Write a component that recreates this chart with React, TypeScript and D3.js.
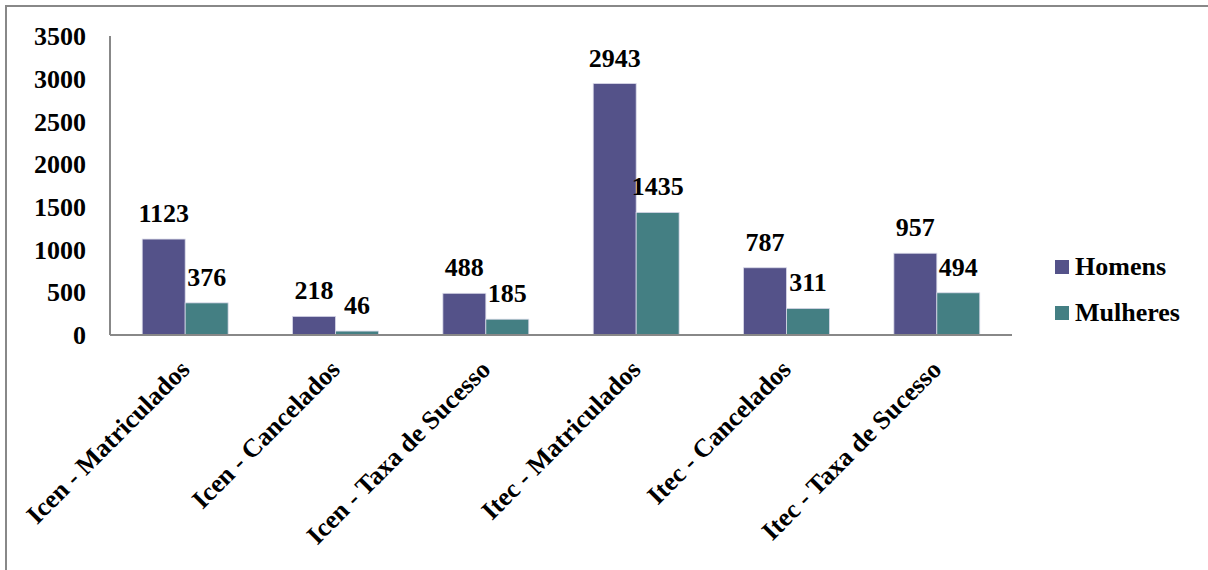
import React from "react";
import * as d3 from "d3";

const categories = [
  "Icen - Matriculados",
  "Icen - Cancelados",
  "Icen - Taxa de Sucesso",
  "Itec - Matriculados",
  "Itec - Cancelados",
  "Itec - Taxa de Sucesso",
];
const seriesNames = ["Homens", "Mulheres"];
const homens = [1123, 218, 488, 2943, 787, 957];
const mulheres = [376, 46, 185, 1435, 311, 494];
const yTicks = [0, 500, 1000, 1500, 2000, 2500, 3000, 3500];
const colors = ["#545289", "#447f83"];

const W = 1208;
const H = 570;
const FONT = "'Liberation Serif', 'Times New Roman', serif";

export default function App() {
  const left = 110;
  const right = 1012;
  const top = 36;
  const bottom = 335;

  const x0 = d3.scaleBand<string>().domain(categories).range([left, right]).padding(0);
  const bw = x0.bandwidth();
  const gap = (bw * 0.75) / 3.5;
  const x1 = d3.scaleBand<string>().domain(seriesNames).range([gap, bw - gap]).padding(0);
  const y = d3.scaleLinear().domain([0, 3500]).range([bottom, top]);

  const values = [homens, mulheres];

  return (
    <svg
      width={W}
      height={H}
      style={{ position: "absolute", left: 0, top: 0, background: "#fff" }}
      fontFamily={FONT}
      fontWeight="bold"
    >
      <rect x={6} y={6} width={W + 10} height={H + 10} fill="#fff" stroke="#888" strokeWidth={2} />

      {/* bars */}
      {categories.map((c, i) => (
        <g key={c}>
          {seriesNames.map((s, k) => {
            const v = values[k][i];
            const bx = (x0(c) as number) + (x1(s) as number);
            return (
              <g key={s}>
                <rect
                  x={bx}
                  y={y(v)}
                  width={x1.bandwidth()}
                  height={y(0) - y(v)}
                  fill={colors[k]}
                  stroke="#d8d8e8"
                  strokeWidth={0.8}
                />
                <text
                  x={bx + x1.bandwidth() / 2}
                  y={y(v) - 17}
                  textAnchor="middle"
                  fontSize={26}
                  fill="#000"
                >
                  {v}
                </text>
              </g>
            );
          })}
        </g>
      ))}

      {/* axes */}
      <line x1={left} x2={left} y1={top} y2={bottom} stroke="#888" strokeWidth={2} />
      <line x1={left} x2={right} y1={bottom} y2={bottom} stroke="#888" strokeWidth={2} />

      {yTicks.map((t) => (
        <text key={t} x={86} y={y(t)} dy="0.35em" textAnchor="end" fontSize={26} fill="#000">
          {t}
        </text>
      ))}

      {categories.map((c) => {
        const cx = (x0(c) as number) + bw / 2 + 6;
        const cy = 371;
        return (
          <text
            key={c}
            x={cx}
            y={cy}
            textAnchor="end"
            fontSize={26}
            fill="#000"
            transform={`rotate(-45 ${cx} ${cy})`}
          >
            {c}
          </text>
        );
      })}

      {/* legend */}
      {seriesNames.map((s, k) => (
        <g key={s} transform={`translate(1055, ${260 + k * 46})`}>
          <rect width={14} height={14} fill={colors[k]} />
          <text x={20} y={15} fontSize={26} fill="#000">
            {s}
          </text>
        </g>
      ))}
    </svg>
  );
}
